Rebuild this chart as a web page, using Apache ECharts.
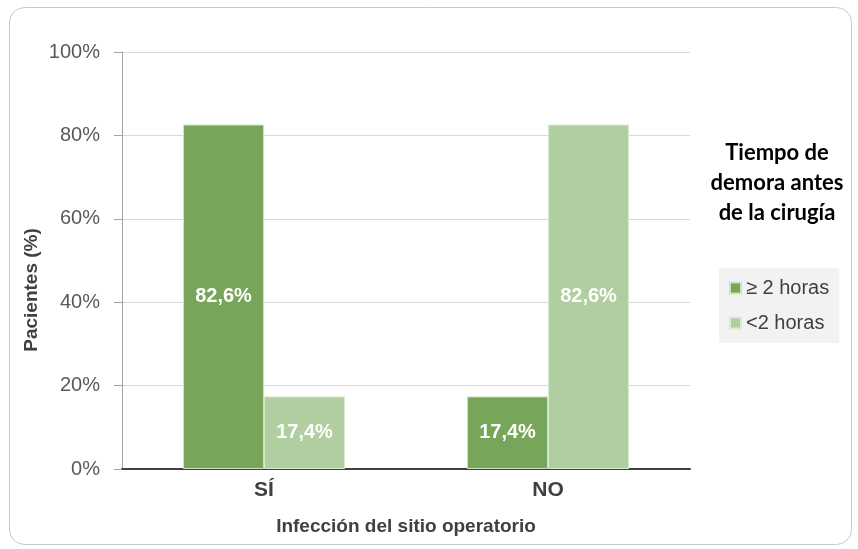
<!DOCTYPE html>
<html>
<head>
<meta charset="utf-8">
<script src="https://cdn.jsdelivr.net/npm/echarts@6/dist/echarts.min.js"></script>
<style>
  html, body { margin: 0; padding: 0; background: #fff; }
  #chart { width: 858px; height: 549px; }
</style>
</head>
<body>
<div id="chart"></div>
<script>
const categories = ['SÍ', 'NO']
const seriesNames = ['≥ 2 horas', '<2 horas']
const valuesMas2h = [82.6, 17.4]
const valuesMenos2h = [17.4, 82.6]
const yTicks = [0, 20, 40, 60, 80, 100]

const FONT = '"Liberation Sans Narrow", "Arial Narrow", "Liberation Sans", sans-serif'

const chart = echarts.init(document.getElementById('chart'))

const fmtLabel = p => p.value.toFixed(1).replace('.', ',') + '%'

const barLabel = {
  show: true,
  position: 'inside',
  formatter: fmtLabel,
  color: '#ffffff',
  fontWeight: 'bold',
  fontSize: 20,
  fontFamily: FONT
}

const option = {
  backgroundColor: '#ffffff',
  animation: false,
  grid: { left: 122, right: 168, top: 52, bottom: 80 },
  legend: {
    data: seriesNames,
    orient: 'vertical',
    left: 719,
    top: 268,
    padding: [10, 10, 10, 10],
    backgroundColor: '#f2f2f2',
    itemWidth: 11,
    itemHeight: 11,
    itemGap: 15,
    icon: 'rect',
    textStyle: { fontSize: 20, color: '#404040', fontFamily: FONT }
  },
  xAxis: {
    type: 'category',
    data: categories,
    name: 'Infección del sitio operatorio',
    nameLocation: 'middle',
    nameGap: 48,
    nameTextStyle: { fontSize: 19, fontWeight: 'bold', color: '#404040', fontFamily: FONT },
    axisLine: { lineStyle: { color: '#404040', width: 2 } },
    axisTick: { show: false },
    axisLabel: { margin: 11, fontSize: 21, fontWeight: 'bold', color: '#404040', fontFamily: FONT }
  },
  yAxis: {
    type: 'value',
    min: yTicks[0],
    max: yTicks[yTicks.length - 1],
    interval: 20,
    axisLine: { show: true, lineStyle: { color: '#a6a6a6', width: 1 } },
    axisTick: { show: true, length: 8, lineStyle: { color: '#a6a6a6' } },
    axisLabel: { formatter: '{value}%', margin: 22, fontSize: 20, color: '#595959', fontFamily: FONT },
    splitLine: { lineStyle: { color: '#d9d9d9', width: 1 } }
  },
  graphic: [
    {
      type: 'rect',
      shape: { x: 9.5, y: 7.5, width: 842, height: 537, r: 15 },
      style: { fill: 'none', stroke: '#c8c8c8', lineWidth: 1 },
      silent: true,
      z: -1
    },
    {
      type: 'text',
      x: 32,
      y: 290,
      rotation: Math.PI / 2,
      style: {
        text: 'Pacientes (%)',
        textAlign: 'center',
        textVerticalAlign: 'middle',
        fontSize: 19,
        fontWeight: 'bold',
        fill: '#404040',
        fontFamily: FONT
      }
    },
    {
      type: 'text',
      x: 777,
      y: 138,
      style: {
        text: 'Tiempo de\ndemora antes\nde la cirugía',
        textAlign: 'center',
        fontSize: 22,
        lineHeight: 30,
        fontWeight: 'bold',
        fill: '#000000',
        fontFamily: 'Lato, "Open Sans", sans-serif'
      }
    }
  ],
  series: [
    {
      name: seriesNames[0],
      type: 'bar',
      data: valuesMas2h,
      barWidth: 81,
      barGap: '0%',
      itemStyle: { color: '#77a65a', borderColor: '#cfe2c4', borderWidth: 1 },
      label: barLabel
    },
    {
      name: seriesNames[1],
      type: 'bar',
      data: valuesMenos2h,
      barWidth: 81,
      barGap: '0%',
      itemStyle: { color: '#b0cea0', borderColor: '#d9e8d0', borderWidth: 1 },
      label: barLabel
    }
  ]
}

chart.setOption(option)
</script>
</body>
</html>
